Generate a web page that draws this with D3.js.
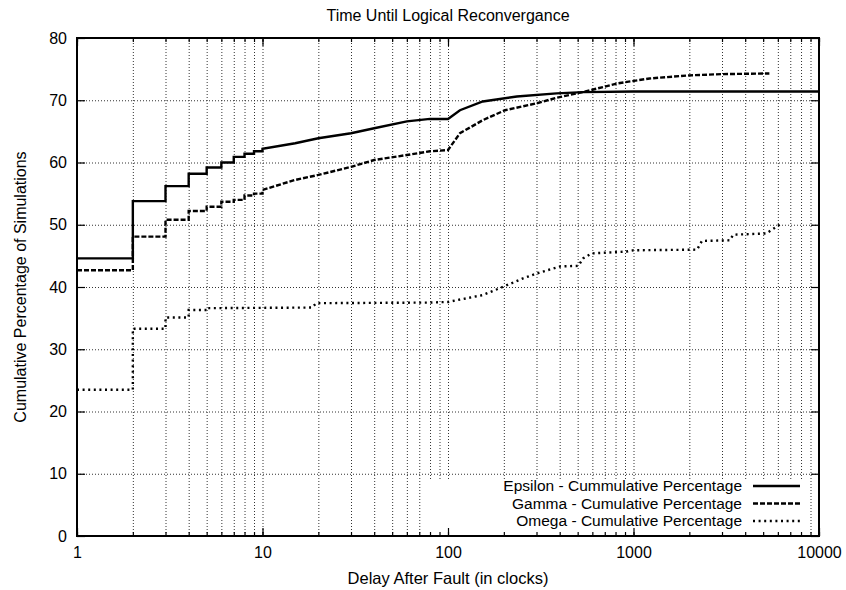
<!DOCTYPE html>
<meta charset="utf-8">
<script src="https://cdn.jsdelivr.net/npm/d3@7"></script>
<style>
    body { margin: 0; background: white; }
    text { font-family: "Liberation Sans", Arial, Helvetica, sans-serif; font-size: 16px; fill: #000; }
    .grid line { stroke: #333; stroke-width: 1; stroke-dasharray: 1,2; }
    .grid path { display: none; }
    .ax path { display: none; }
    .ax line { stroke: #000; stroke-width: 1.2; }
</style>
<div id="chart"></div>
<script>
    // values: [delay in clocks, cumulative %]
    var epsilon = [[1, 44.6], [2, 44.6], [2, 53.8], [3, 53.8], [3, 56.2], [4, 56.2], [4, 58.2], [5, 58.2],
        [5, 59.2], [6, 59.2], [6, 60.0], [7, 60.0], [7, 60.9], [8, 60.9], [8, 61.4], [9, 61.4], [9, 61.8],
        [10, 61.8], [10, 62.2], [15, 63.1], [20, 63.9], [30, 64.7], [40, 65.5], [60, 66.6], [80, 67.0],
        [100, 67.0], [116, 68.4], [154, 69.8], [235, 70.6], [385, 71.1], [535, 71.3], [1000, 71.4], [10000, 71.4]];
    var gamma = [[1, 42.7], [2, 42.7], [2, 48.1], [3, 48.1], [3, 50.8], [4, 50.8], [4, 52.2], [5, 52.2],
        [5, 52.9], [6, 52.9], [6, 53.7], [7, 53.7], [7, 54.0], [8, 54.0], [8, 54.7], [9, 54.7], [9, 55.0],
        [10, 55.0], [10, 55.6], [15, 57.2], [20, 58.0], [30, 59.3], [40, 60.4], [60, 61.2], [80, 61.8],
        [100, 62.0], [116, 64.7], [154, 66.8], [203, 68.4], [300, 69.5], [385, 70.4], [495, 71.1],
        [585, 71.6], [815, 72.7], [1220, 73.5], [2000, 74.0], [3000, 74.2], [5400, 74.3]];
    var omega = [[1, 23.5], [2, 23.5], [2, 33.3], [3, 33.3], [3, 35.1], [4, 35.1], [4, 36.3], [5, 36.3],
        [5, 36.6], [18.5, 36.7], [19.5, 37.4], [80, 37.5], [100, 37.6], [154, 38.7], [197, 40.0],
        [254, 41.4], [303, 42.2], [402, 43.3], [505, 43.4], [535, 44.6], [595, 45.4], [918, 45.7],
        [1000, 45.9], [2200, 46.0], [2340, 47.4], [3300, 47.5], [3450, 48.4], [5200, 48.6], [6200, 50.1]];

    var seriesNames = ["Epsilon - Cummulative Percentage", "Gamma - Cumulative Percentage", "Omega - Cumulative Percentage"];
    var seriesData = [epsilon, gamma, omega];
    var dashes = [null, "5,2", "2,3.6"];

    var xTickValues = [1, 10, 100, 1000, 10000];
    var yTickValues = [0, 10, 20, 30, 40, 50, 60, 70, 80];

    var margin = { top: 38, right: 27, bottom: 54, left: 77 },
        width = 846 - margin.left - margin.right,
        height = 590 - margin.top - margin.bottom;

    var root = d3.select("#chart")
        .append("svg")
        .attr("width", 846)
        .attr("height", 590);

    var svg = root.append("g")
        .attr("transform", "translate(" + margin.left + "," + margin.top + ")");

    var x = d3.scaleLog()
        .domain([1, 10000])
        .range([0, width]);
    var y = d3.scaleLinear()
        .domain([0, 80])
        .range([height, 0]);

    // dotted grid, every minor x tick and every y tick
    svg.append("g")
        .attr("class", "grid")
        .attr("transform", "translate(0," + height + ")")
        .call(d3.axisBottom(x).tickValues(x.ticks().filter(function(d) { return d > 1 && d < 10000; }))
            .tickSize(-height).tickFormat(""));
    svg.append("g")
        .attr("class", "grid")
        .call(d3.axisLeft(y).tickValues(yTickValues.slice(1, -1)).tickSize(-width).tickFormat(""));

    // key box hides the grid behind it
    svg.append("rect")
        .attr("x", 348)
        .attr("y", 441)
        .attr("width", 381)
        .attr("height", height - 441)
        .style("fill", "white");

    var line = d3.line()
        .x(function(d) { return x(d[0]); })
        .y(function(d) { return y(d[1]); });

    svg.selectAll(".series")
        .data(seriesData)
        .enter()
        .append("path")
        .attr("class", "series")
        .attr("d", line)
        .style("fill", "none")
        .style("stroke", "#000")
        .style("stroke-width", 2.4)
        .style("stroke-dasharray", function(d, i) { return dashes[i]; });

    // axes: ticks point inward, mirrored on top and right
    svg.append("g")
        .attr("class", "ax")
        .attr("transform", "translate(0," + height + ")")
        .call(d3.axisBottom(x).tickValues(x.ticks()).tickSize(-4).tickFormat(""));
    svg.append("g")
        .attr("class", "ax")
        .call(d3.axisTop(x).tickValues(x.ticks()).tickSize(-4).tickFormat(""));
    svg.append("g")
        .attr("class", "ax")
        .attr("transform", "translate(0," + height + ")")
        .call(d3.axisBottom(x).tickValues(xTickValues).tickSize(-8).tickPadding(11)
            .tickFormat(function(d) { return d; }));
    svg.append("g")
        .attr("class", "ax")
        .call(d3.axisTop(x).tickValues(xTickValues).tickSize(-8).tickFormat(""));
    svg.append("g")
        .attr("class", "ax")
        .call(d3.axisLeft(y).tickValues(yTickValues).tickSize(-8).tickPadding(10));
    svg.append("g")
        .attr("class", "ax")
        .attr("transform", "translate(" + width + ",0)")
        .call(d3.axisRight(y).tickValues(yTickValues).tickSize(-8).tickFormat(""));

    svg.selectAll(".ax text").style("font-size", "16px").style("font-family", null);

    svg.append("rect")
        .attr("width", width)
        .attr("height", height)
        .style("fill", "none")
        .style("stroke", "#000")
        .style("stroke-width", 2);

    // key
    var key = svg.append("g")
        .selectAll("g")
        .data(seriesNames)
        .enter()
        .append("g")
        .attr("transform", function(d, i) { return "translate(0," + (448 + i * 17.5) + ")"; });
    key.append("text")
        .attr("x", 665)
        .attr("dy", "0.35em")
        .attr("text-anchor", "end")
        .style("font-size", "15.5px")
        .text(function(d) { return d; });
    key.append("line")
        .attr("x1", 676)
        .attr("x2", 723)
        .style("stroke", "#000")
        .style("stroke-width", 2.4)
        .style("stroke-dasharray", function(d, i) { return dashes[i]; });

    // titles
    root.append("text")
        .attr("x", margin.left + width / 2)
        .attr("y", 21)
        .attr("text-anchor", "middle")
        .text("Time Until Logical Reconvergance");

    root.append("text")
        .attr("x", margin.left + width / 2)
        .attr("y", 584)
        .attr("text-anchor", "middle")
        .style("font-size", "16.5px")
        .text("Delay After Fault (in clocks)");

    root.append("text")
        .attr("transform", "translate(26," + (margin.top + height / 2) + ") rotate(-90)")
        .attr("text-anchor", "middle")
        .text("Cumulative Percentage of Simulations");
</script>
